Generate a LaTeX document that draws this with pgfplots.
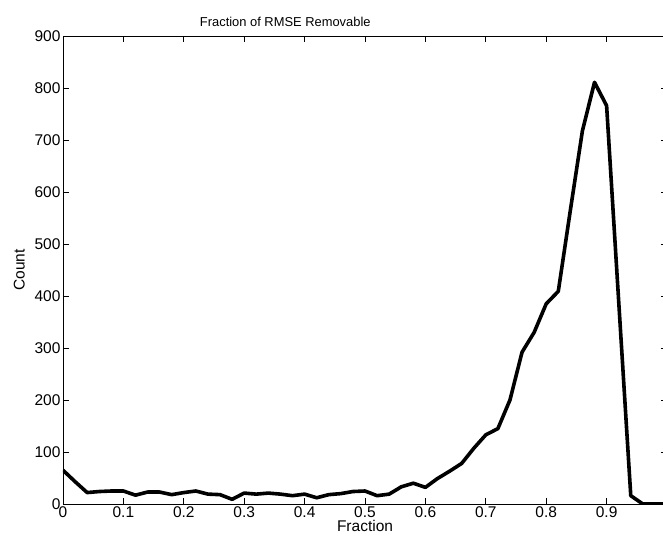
\documentclass[border=0pt]{standalone}
\usepackage{pgfplots}
\pgfplotsset{compat=1.18}
\usepackage{fontspec}
\setmainfont{Liberation Sans}
\begin{document}
\begin{tikzpicture}
\useasboundingbox (-63pt,-38pt) rectangle (600pt,504pt);
\clip (-63pt,-38pt) rectangle (600pt,504pt);
\begin{axis}[
  at={(0,0)}, anchor=south west,
  scale only axis,
  width=604pt, height=468pt,
  xmin=0, xmax=1, ymin=0, ymax=900,
  xtick={0,0.1,...,0.9},
  xticklabels={0,0.1,0.2,0.3,0.4,0.5,0.6,0.7,0.8,0.9},
  ytick={0,100,...,900},
  tick align=inside,
  major tick length=6pt,
  axis line style={line width=0.7pt},
  tick style={line width=0.7pt, black},
  /pgf/number format/assume math mode=true,
  tick label style={font=\fontsize{15.5}{17}\selectfont},
  label style={font=\fontsize{15.5}{17}\selectfont},
  xticklabel style={yshift=1pt},
  yticklabel style={xshift=1pt},
  xlabel={Fraction},
  xlabel style={yshift=4pt},
  ylabel={Count},
  ylabel style={yshift=3pt},
  title={Fraction of RMSE Removable},
  title style={font=\fontsize{12.9}{15}\selectfont, at={(0.368,1)}, anchor=south, yshift=0pt},
]
\addplot[black, line width=3.6pt, line join=round] coordinates {
(0,65) (0.02,43) (0.04,22) (0.06,24) (0.08,25) (0.1,25) (0.12,17) (0.14,23)
(0.16,23) (0.18,18) (0.2,22) (0.22,25) (0.24,19) (0.26,18) (0.28,9) (0.3,21)
(0.32,19) (0.34,21) (0.36,19) (0.38,16) (0.4,19) (0.42,12) (0.44,18) (0.46,20)
(0.48,24) (0.5,25) (0.52,16) (0.54,19) (0.56,33) (0.58,40) (0.6,32) (0.62,49)
(0.64,63) (0.66,78) (0.68,107) (0.7,133) (0.72,145) (0.74,200) (0.76,292)
(0.78,330) (0.8,385) (0.82,409) (0.84,565) (0.86,718) (0.88,811) (0.9,766)
(0.92,390) (0.94,16) (0.96,0) (0.98,0) (1.0,0)
};
\end{axis}
\end{tikzpicture}
\end{document}
